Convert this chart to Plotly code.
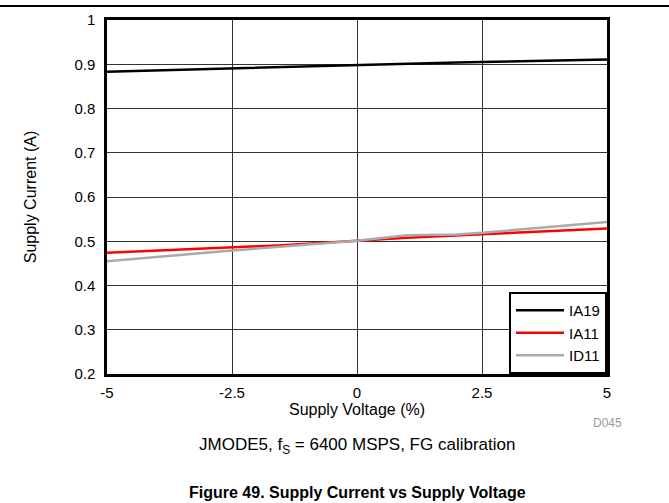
import plotly.graph_objects as go

# ─── DATOS ───
x_ia19 = [-5, -2.5, 0, 1, 2, 2.5, 5]
ia19 = [0.883, 0.891, 0.898, 0.901, 0.904, 0.905, 0.911]

x_ia11 = [-5, -2.5, -1.5, 0, 1, 2.5, 5]
ia11 = [0.474, 0.487, 0.491, 0.501, 0.508, 0.516, 0.529]

x_id11 = [-5, -2.5, 0, 1, 2, 2.5, 5]
id11 = [0.455, 0.479, 0.501, 0.5135, 0.515, 0.519, 0.5435]

x_ticks = [-5, -2.5, 0, 2.5, 5]
x_labels = ["-5", "-2.5", "0", "2.5", "5"]
y_ticks = [0.2, 0.3, 0.4, 0.5, 0.6, 0.7, 0.8, 0.9, 1]
y_labels = ["0.2", "0.3", "0.4", "0.5", "0.6", "0.7", "0.8", "0.9", "1"]

FONT = "Liberation Sans, Arial, sans-serif"

fig = go.Figure()
fig.add_trace(go.Scatter(x=x_ia19, y=ia19, mode="lines", name="IA19",
                         line=dict(color="black", width=2.5)))
fig.add_trace(go.Scatter(x=x_ia11, y=ia11, mode="lines", name="IA11",
                         line=dict(color="#ff0000", width=2.5)))
fig.add_trace(go.Scatter(x=x_id11, y=id11, mode="lines", name="ID11",
                         line=dict(color="#aaaaaa", width=2.5)))

fig.update_layout(
    width=669, height=503,
    margin=dict(l=107, r=62, t=20, b=129),
    paper_bgcolor="white", plot_bgcolor="white",
    font=dict(family=FONT, size=15, color="black"),
    showlegend=True,
    legend=dict(x=1, y=0, xanchor="right", yanchor="bottom",
                bgcolor="white", bordercolor="black", borderwidth=2,
                font=dict(size=15), itemwidth=48, tracegroupgap=0),
)
fig.update_xaxes(
    range=[-5, 5], tickvals=x_ticks, ticktext=x_labels,
    showgrid=True, gridcolor="#333333", gridwidth=1,
    showline=True, linecolor="black", linewidth=2.5, mirror=True,
    zeroline=False, ticks="", ticklabelstandoff=3,
    title=dict(text="Supply Voltage (%)", font=dict(size=16), standoff=0),
)
fig.update_yaxes(
    range=[0.2, 1], tickvals=y_ticks, ticktext=y_labels,
    showgrid=True, gridcolor="#333333", gridwidth=1,
    showline=True, linecolor="black", linewidth=2.5, mirror=True,
    zeroline=False, ticks="", ticklabelstandoff=6,
    title=dict(text="Supply Current (A)", font=dict(size=16), standoff=34),
)

# linea superior de la pagina
fig.add_shape(type="line", xref="paper", yref="paper",
              x0=-107 / 500, x1=562 / 500, y0=(374 - 6) / 354, y1=(374 - 6) / 354,
              line=dict(color="black", width=2))

fig.add_annotation(text="D045", xref="paper", yref="paper", x=1, y=-49 / 354,
                   showarrow=False, font=dict(size=12, color="#999999"),
                   xanchor="center", yanchor="middle")
fig.add_annotation(text="JMODE5, f<sub>S</sub> = 6400 MSPS, FG calibration",
                   xref="paper", yref="paper", x=0.5, y=-72 / 354,
                   showarrow=False, font=dict(size=17),
                   xanchor="center", yanchor="middle")
fig.add_annotation(text="<b>Figure 49. Supply Current vs Supply Voltage</b>",
                   xref="paper", yref="paper", x=0.5, y=-118 / 354,
                   showarrow=False, font=dict(size=16),
                   xanchor="center", yanchor="middle")

fig.write_html("out.html", config={"displayModeBar": False},
               post_script="document.body.style.margin='0';")
